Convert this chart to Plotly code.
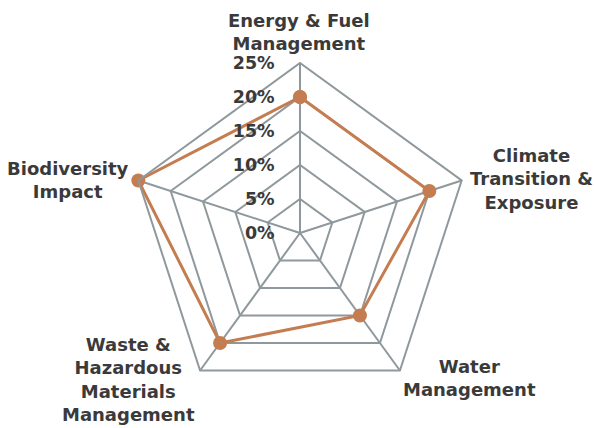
import plotly.graph_objects as go

categories = ["Energy & Fuel<br>Management", "Climate<br>Transition &<br>Exposure",
              "Water<br>Management", "Waste &<br>Hazardous<br>Materials<br>Management",
              "Biodiversity<br>Impact"]
values = [20, 20, 15, 20, 25]
tick_values = [0, 5, 10, 15, 20, 25]
tick_labels = ["0%", "5%", "10%", "15%", "20%", "25%"]

GRID = "#8F989C"
ORANGE = "#C47D51"
TEXT = "#3A3A3A"
FONT = "DejaVu Sans"

keys = [f"c{i}" for i in range(len(categories))]

fig = go.Figure()
fig.add_trace(go.Scatterpolar(
    r=values + values[:1],
    theta=keys + keys[:1],
    mode="lines+markers",
    line=dict(color=ORANGE, width=3),
    marker=dict(color=ORANGE, size=14),
    showlegend=False,
    hoverinfo="skip",
))

W, H = 594, 428
label_pos = [(299, 32), (531, 179), (470, 378), (128, 379), (68, 180)]
annotations = []
for text, (px, py) in zip(categories, label_pos):
    annotations.append(dict(
        text="<b>" + text + "</b>", x=px / W, y=1 - py / H,
        xref="paper", yref="paper", xanchor="center", yanchor="middle",
        showarrow=False, align="center",
        font=dict(family=FONT, size=18, color=TEXT),
    ))

pad = "\u00a0" * 4
fig.update_layout(
    width=W, height=H,
    margin=dict(l=0, r=0, t=0, b=0),
    paper_bgcolor="white",
    polar=dict(
        domain=dict(x=[130 / W, 470 / W], y=[(H - 403) / H, (H - 63) / H]),
        bgcolor="white",
        gridshape="linear",
        radialaxis=dict(
            range=[0, 25], tickvals=tick_values,
            ticktext=["<b>" + t + "</b>" + pad for t in tick_labels],
            angle=90, tickangle=90, side="counterclockwise",
            showline=False, ticks="", gridcolor=GRID, gridwidth=2,
            tickfont=dict(family=FONT, size=17.5, color=TEXT),
        ),
        angularaxis=dict(
            type="category", categoryarray=keys,
            rotation=90, direction="clockwise",
            showticklabels=False, ticks="",
            gridcolor=GRID, gridwidth=2,
            linecolor=GRID, linewidth=2, showline=True,
        ),
    ),
    annotations=annotations,
)

fig.write_html("out.html", config={"displayModeBar": False},
               post_script="document.body.style.margin='0';")
